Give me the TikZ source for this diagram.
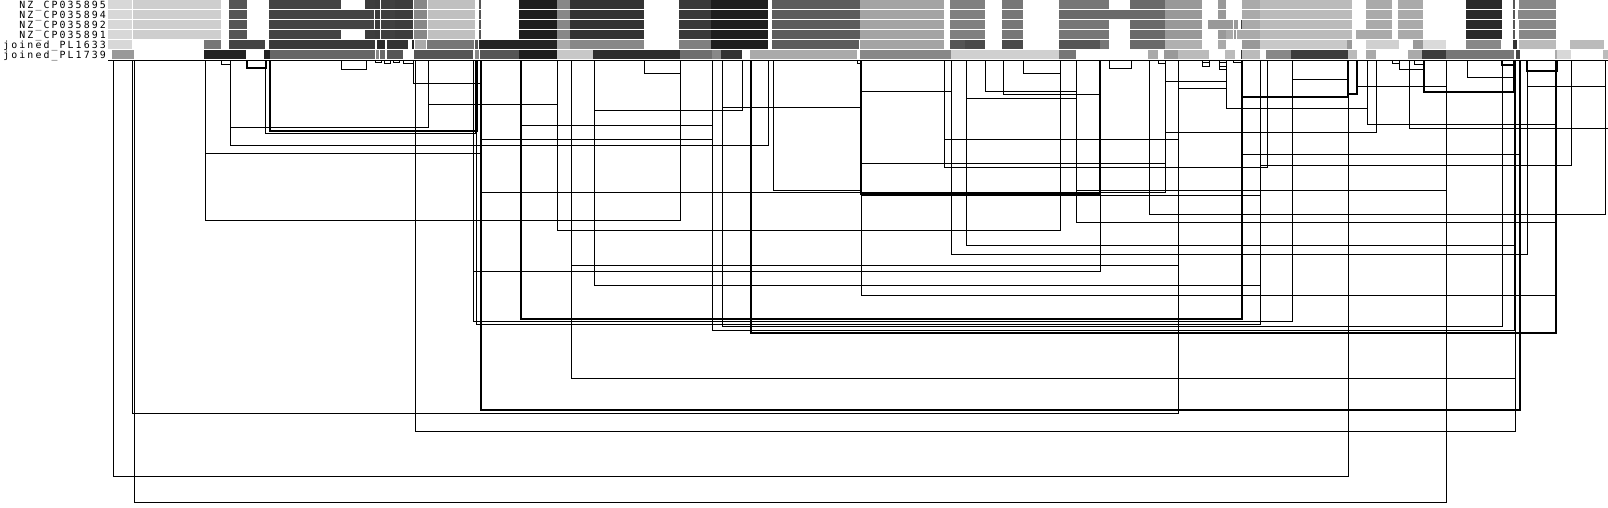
\documentclass[tikz,border=0pt]{standalone}
\usepackage{fontspec}
\newfontfamily\lblfont[LetterSpace=21]{DejaVu Sans Mono}
\newcommand{\sg}[4]{\fill[fill={rgb,255:red,#4;green,#4;blue,#4}] (#2,{10*#1}) rectangle (#3,{10*#1+9});}
\newcommand{\br}[4][]{\draw[brk,#1] (#2,60.5) |- (#3,#4) -- (#3,60.5);}
\begin{document}
\begin{tikzpicture}[x=1pt,y=-1pt,
  brk/.style={draw=black,line width=1pt,line join=miter},
  tk/.style={line width=2pt},
  lab/.style={font=\lblfont\fontsize{9.9}{10}\selectfont,anchor=base east,inner sep=0pt}]
\useasboundingbox[fill=white] (0,0) rectangle (1608,507);
% labels
\node[lab] (l0) at (106,8.2) {NZ\_CP035895};
\node[lab] (l1) at (106,18.2) {NZ\_CP035894};
\node[lab] (l2) at (106,28.2) {NZ\_CP035892};
\node[lab] (l3) at (106,38.2) {NZ\_CP035891};
\node[lab] (l4) at (106,48.2) {joined\_PL1633};
\node[lab] (l5) at (106,58.2) {joined\_PL1739};
% row 0 and 3
\foreach \r in {0,3}{
\sg{\r}{107.8}{131.9}{216}\sg{\r}{132.9}{220.8}{206}\sg{\r}{229}{246.9}{85}
\sg{\r}{268.6}{341}{68}\sg{\r}{365}{374.7}{60}\sg{\r}{375.4}{379.9}{58}
\sg{\r}{380.6}{394.7}{64}\sg{\r}{395.4}{412.9}{60}\sg{\r}{414}{427}{136}
\sg{\r}{428}{475.3}{192}\sg{\r}{478.7}{480.8}{85}\sg{\r}{519.4}{556.9}{30}
\sg{\r}{556.9}{570}{136}\sg{\r}{570}{644}{51}\sg{\r}{679}{711}{58}
\sg{\r}{711}{767.6}{30}\sg{\r}{772}{860}{92}\sg{\r}{860}{944}{164}
\sg{\r}{950}{985}{128}\sg{\r}{1002}{1023}{119}\sg{\r}{1059}{1108.6}{119}
\sg{\r}{1130}{1165}{106}\sg{\r}{1165}{1201.6}{153}\sg{\r}{1218}{1225.7}{153}
\sg{\r}{1260}{1352}{187}\sg{\r}{1398}{1423}{170}
\sg{\r}{1466}{1502}{42}\sg{\r}{1513}{1514.7}{85}\sg{\r}{1519}{1555.7}{136}}
\sg{0}{1242}{1260}{170}\sg{0}{1366}{1392}{170}
\sg{3}{1225.7}{1232.6}{170}\sg{3}{1234}{1236}{153}\sg{3}{1236.8}{1260}{170}\sg{3}{1356}{1392}{170}
% rows 1 and 2
\foreach \r in {1,2}{
\sg{\r}{107.8}{131.9}{216}\sg{\r}{132.9}{220.8}{206}\sg{\r}{229}{246.9}{85}
\sg{\r}{268.6}{374}{68}\sg{\r}{375.4}{379.9}{58}
\sg{\r}{380.6}{394.7}{64}\sg{\r}{395.4}{412.9}{60}\sg{\r}{414}{427}{136}
\sg{\r}{428}{475.3}{192}\sg{\r}{478.7}{480.8}{85}\sg{\r}{519.4}{556.9}{30}
\sg{\r}{556.9}{570}{136}\sg{\r}{570}{644}{51}\sg{\r}{679}{711}{58}
\sg{\r}{711}{767.6}{30}\sg{\r}{772}{860}{92}\sg{\r}{860}{944}{164}
\sg{\r}{950}{985}{128}\sg{\r}{1002}{1023}{119}
\sg{\r}{1165}{1201.6}{153}\sg{\r}{1242}{1260}{170}
\sg{\r}{1260}{1352}{187}\sg{\r}{1366}{1392}{170}\sg{\r}{1398}{1423}{170}
\sg{\r}{1466}{1502}{42}\sg{\r}{1513}{1514.7}{85}}
\sg{1}{1059}{1165}{106}\sg{1}{1218}{1225.7}{153}\sg{1}{1518}{1555.7}{136}
\sg{2}{1059}{1108.6}{119}\sg{2}{1130}{1165}{106}\sg{2}{1208}{1232.6}{153}
\sg{2}{1234}{1238}{153}\sg{2}{1241}{1242}{60}\sg{2}{1519}{1555.7}{136}
% row 4
\sg{4}{107.8}{131.9}{216}\sg{4}{203.9}{220.8}{119}\sg{4}{229}{264.5}{68}
\sg{4}{268.6}{375.4}{58}\sg{4}{377}{385}{42}\sg{4}{386.7}{408}{51}
\sg{4}{412.2}{413.6}{34}\sg{4}{415}{426.4}{170}\sg{4}{427}{473.6}{119}
\sg{4}{474.6}{478}{85}\sg{4}{479.4}{556.9}{36}\sg{4}{556.9}{570}{170}
\sg{4}{570}{644}{136}\sg{4}{679}{711}{128}\sg{4}{711}{767.6}{30}
\sg{4}{772}{859}{92}\sg{4}{860}{944}{164}\sg{4}{950}{965}{85}
\sg{4}{965}{985}{74}\sg{4}{1002}{1023}{74}\sg{4}{1059}{1099.7}{85}
\sg{4}{1099.7}{1108.6}{119}\sg{4}{1130}{1165}{106}\sg{4}{1165}{1201.6}{176}
\sg{4}{1218}{1225.7}{170}\sg{4}{1242}{1260}{153}\sg{4}{1260}{1347}{200}
\sg{4}{1347}{1352}{153}\sg{4}{1366}{1398.6}{208}\sg{4}{1413}{1423}{153}
\sg{4}{1423}{1446}{218}\sg{4}{1466}{1500.5}{136}\sg{4}{1513}{1517}{51}
\sg{4}{1519}{1555.7}{187}\sg{4}{1570}{1604}{187}
% row 5
\sg{5}{112}{133.6}{153}\sg{5}{203.9}{245.6}{34}\sg{5}{264}{269.7}{34}
\sg{5}{270.4}{375.4}{102}\sg{5}{376.4}{378.8}{136}\sg{5}{380.2}{385}{106}
\sg{5}{386.7}{403}{85}\sg{5}{414}{472.5}{85}\sg{5}{474.6}{479.4}{136}
\sg{5}{480}{518.7}{85}\sg{5}{519.4}{556.9}{30}\sg{5}{556.9}{593}{200}
\sg{5}{593}{680}{46}\sg{5}{680}{712}{110}\sg{5}{712}{720.5}{136}
\sg{5}{721}{742}{51}\sg{5}{750}{857}{170}\sg{5}{859.6}{951}{136}
\sg{5}{951}{1059}{208}\sg{5}{1059}{1075.6}{119}\sg{5}{1148}{1157.5}{170}
\sg{5}{1164}{1178}{153}\sg{5}{1178}{1208.5}{187}\sg{5}{1225}{1234.7}{187}
\sg{5}{1241}{1242}{51}\sg{5}{1242}{1260}{187}\sg{5}{1266}{1291}{136}
\sg{5}{1291}{1348}{60}\sg{5}{1348}{1356.6}{187}\sg{5}{1366}{1375.5}{170}
\sg{5}{1408}{1422}{170}\sg{5}{1422}{1446}{60}\sg{5}{1446}{1514}{119}
\sg{5}{1516}{1520}{68}\sg{5}{1555}{1557}{170}\sg{5}{1557}{1571}{216}
\sg{5}{1603}{1608}{187}
% axis
\draw[line width=1.2pt] (108,60.5) coordinate (ax0) -- (1608,60.5) coordinate (ax1);
% small brackets
\br{221}{230.3}{64.3}
\br[tk]{246.7}{265.7}{67.7}
\br{341.3}{366.7}{69.3}
\br{375}{381}{62.5}
\br{384}{390}{63.5}
\br{393}{399}{62.5}
\br{403}{413.3}{63.5}
\br{644.3}{680.3}{73.3}
\br{857.7}{861}{63}
\br{1023.3}{1060}{73.3}
\br{1109.3}{1131.6}{68.3}
\br{1158.2}{1165.2}{63.3}
\br{1202.2}{1209.2}{62}
\br{1202.2}{1209.2}{66}
\br{1219.4}{1226.4}{62.5}
\br{1219.4}{1226.4}{66}
\br{1219.4}{1226.4}{69}
\br{1233.7}{1242}{62.3}
\br{1392.4}{1399}{63.3}
\br{1399}{1423.5}{69}
\br{1414.7}{1423.5}{64.3}
\br[tk]{1502.1}{1514.4}{65}
\br[tk]{1526.7}{1556.7}{71}
\br[tk]{1348.3}{1357.4}{94}
% medium brackets
\br{413.3}{480}{83.3}
\br{428.3}{557.3}{104}
\br{594.3}{742.7}{110.3}
\br{722.3}{861}{107.3}
\br{520.7}{712.3}{125.3}
\br{230.3}{428.3}{127.3}
\br[tk]{270.3}{477}{131}
\br{265.7}{475}{133}
\br{481}{712.3}{139.3}
\br{230.3}{768.3}{145.3}
\br{205.3}{480}{153.3}
\br{861}{951.3}{91.3}
\br{985.3}{1076.4}{91.3}
\br{1003.3}{1100.2}{94}
\br{966.3}{1076.4}{98.3}
\br{1165.2}{1226.4}{81.3}
\br{1178.5}{1226.4}{88.3}
\br{1226.4}{1367.3}{108.3}
\br[tk]{1242.4}{1348.3}{96.7}
\br{1292.4}{1348.3}{79.3}
\br{1357.4}{1446.7}{86.3}
\br{1367.3}{1556.7}{124.3}
\draw[brk] (1409.5,60.5) |- (1612,128.3);
\br[tk]{1423.5}{1514.4}{91.7}
\br{1467.5}{1514.4}{77.3}
\br{1527.6}{1605}{86.3}
\br{1165.2}{1376.3}{132.3}
\br{944.3}{1178.5}{139.3}
\br{944.3}{1267.3}{167.3}
\br{861}{1165.2}{163.3}
\br{1260.3}{1571.3}{165}
\br{773.3}{861}{190}
\br{481}{1165.2}{192}
\br[tk]{861}{1100.2}{194}
\br{861}{1260.3}{195.5}
\br{1076.4}{1446.7}{190}
\br{1242.4}{1520.7}{154.3}
% lower brackets
\br{1149.3}{1605}{214.3}
\br{1076.4}{1556.7}{222.3}
\br{205.3}{680.3}{220.3}
\br{557.3}{1060}{230.3}
\br{966.3}{1514.4}{245.3}
\br{951.3}{1527.6}{254.3}
\br{571.3}{1178.5}{265.3}
\br{473.3}{1100.2}{271}
\br{594.3}{1260.3}{285.3}
\br{861.3}{1556.3}{295.3}
\br[tk]{520.7}{1242.4}{319.3}
\br{473.3}{1292.4}{321}
\br{476.7}{1260.3}{324.3}
\br{722.3}{1502.8}{326.7}
\br{712.3}{1514.4}{330}
\br[tk]{751.3}{1556.3}{332.5}
\br{571.3}{1515.3}{378.3}
\br[tk]{481}{1519.9}{410.3}
\br{132.3}{1178.5}{413}
\br{415.3}{1515.3}{431}
\br{113.3}{1348.3}{476.3}
\br{134.3}{1446.7}{502}
\end{tikzpicture}
\end{document}
